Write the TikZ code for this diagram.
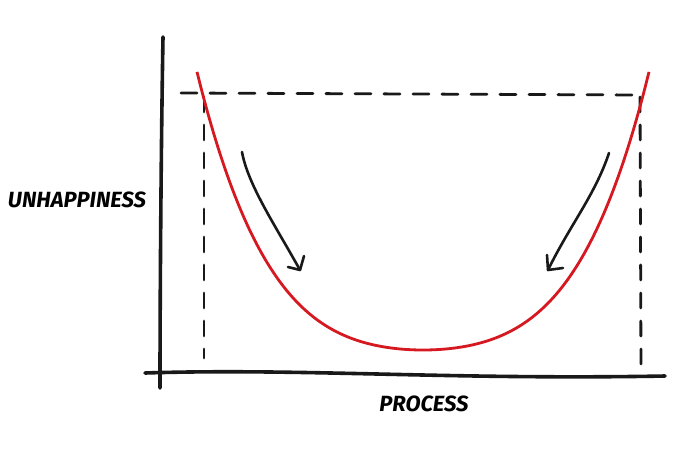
\documentclass[tikz,border=0pt]{standalone}
\usepackage{fontspec}
\setmainfont{Fira Sans}
\begin{document}
\begin{tikzpicture}[x=1pt,y=-1pt,
  ink/.style={line width=3.6pt,line cap=round,black!90},
  dashline/.style={line width=2.8pt,line cap=round,black!90,dash pattern=on 16pt off 13pt},
  vdash/.style={line width=2.8pt,line cap=round,black!90,dash pattern=on 15pt off 13pt},
  redcurve/.style={line width=2.8pt,color={rgb,255:red,214;green,24;blue,32}},
  handarrow/.style={line width=2.6pt,line cap=round,line join=round,black!90},
  lbl/.style={font=\fontsize{22}{22}\selectfont\bfseries\itshape,inner sep=0pt}]
\useasboundingbox (0,0) rectangle (690,460);
% axes
\coordinate (yt) at (163,37);
\coordinate (yb) at (160,388);
\coordinate (xl) at (145,373);
\coordinate (xr) at (665,376);
\draw[ink] (yt) .. controls (161,150) and (160,300) .. (yb);
\draw[ink] (xl) .. controls (300,368) and (450,380) .. (xr);
% dashed guides
\coordinate (hl) at (181,93);
\coordinate (hr) at (640,95);
\coordinate (lt) at (204,97);
\coordinate (ll) at (204,358);
\coordinate (rt) at (640,97);
\coordinate (rl) at (641,366);
\draw[dashline] (hl) -- (hr);
\draw[vdash] (lt) -- (ll);
\draw[vdash] (rt) -- (rl);
% red curve
\draw[redcurve] plot[domain=197:649,samples=140,smooth] (\x,{350-19.2*((\x-423)/100)^2-6.9*((\x-423)/100)^4});
% arrows
\coordinate (a1s) at (242,152);
\coordinate (a1t) at (300,270);
\draw[handarrow] (a1s) .. controls (248,185) and (275,225) .. (a1t);
\draw[handarrow] (288,267) -- (a1t) -- (304,256);
\coordinate (a2s) at (609,153);
\coordinate (a2t) at (548,270);
\draw[handarrow] (a2s) .. controls (595,195) and (570,225) .. (a2t);
\draw[handarrow] (547,255) -- (a2t) -- (563,268);
% labels
\node[lbl] (yl) at (77,200) {UNHAPPINESS};
\node[lbl] (xlab) at (424,404) {PROCESS};
\end{tikzpicture}
\end{document}
